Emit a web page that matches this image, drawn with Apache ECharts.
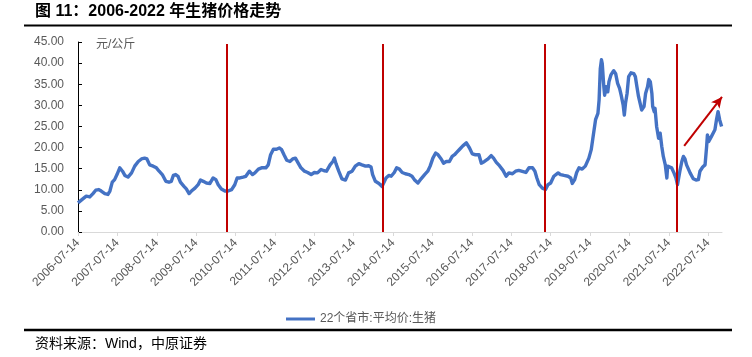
<!DOCTYPE html>
<html>
<head>
<meta charset="utf-8">
<script src="https://cdn.jsdelivr.net/npm/echarts@6/dist/echarts.min.js"></script>
<style>
html,body{margin:0;padding:0;background:#fff;}
#chart{width:752px;height:357px;}
</style>
</head>
<body>
<div id="chart"></div>
<script>
// Time in years since 2006-07-14
var timeYears = [
0.00,0.13,0.21,0.30,0.38,0.45,0.53,0.59,0.68,0.76,0.81,0.87,0.93,0.99,1.06,1.13,1.19,1.27,1.36,1.44,
1.53,1.61,1.69,1.75,1.82,1.91,1.99,2.06,2.14,2.23,2.31,2.37,2.42,2.48,2.54,2.60,2.69,2.75,2.82,2.88,
2.97,3.05,3.11,3.18,3.26,3.35,3.43,3.50,3.56,3.64,3.73,3.81,3.90,3.98,4.04,4.11,4.19,4.26,4.35,4.43,
4.49,4.58,4.66,4.77,4.83,4.89,4.96,5.04,5.11,5.17,5.23,5.30,5.38,
5.45,5.52,5.58,5.66,5.75,5.83,5.92,6.00,6.08,6.17,6.25,6.31,6.40,6.47,6.51,6.55,6.62,6.70,6.79,6.87,
6.96,7.04,7.13,7.21,7.30,7.38,7.44,7.48,7.55,7.64,7.72,7.76,7.82,7.89,7.95,8.03,8.09,8.16,8.23,8.31,
8.40,8.48,8.54,8.63,8.71,8.80,8.88,8.94,9.01,9.08,9.14,9.22,9.28,9.35,9.43,9.50,9.56,9.62,9.69,9.77,
9.86,9.90,9.94,10.01,10.09,10.18,10.24,10.32,10.41,10.49,10.55,10.62,10.70,10.79,10.87,10.94,11.03,11.11,11.19,
11.24,11.37,11.45,11.54,11.60,11.65,11.71,11.79,11.87,11.93,12.00,12.08,12.19,12.25,12.34,12.44,12.51,12.55,12.61,12.66,
12.72,12.80,12.88,12.97,13.03,13.09,13.14,13.20,13.23,13.26,13.29,13.31,13.35,13.37,13.41,13.45,13.48,13.53,13.60,13.65,
13.70,13.75,13.79,13.84,13.87,13.90,13.94,13.98,14.04,14.11,14.15,14.19,14.23,14.27,14.31,14.37,14.41,14.46,14.49,14.53,
14.57,14.59,14.63,14.65,14.69,14.74,14.78,14.82,14.86,14.91,14.95,14.97,15.01,15.07,15.13,15.18,15.22,15.25,15.28,15.33,
15.37,15.41,15.45,15.49,15.54,15.58,15.62,15.69,15.75,15.79,15.86,15.92,15.96,15.98,16.01,16.04,16.08,16.13,16.17,16.21,
16.25,16.29,16.34
];
// 元/公斤
var hogPrice = [
6.9,7.9,8.5,8.3,9.1,9.9,10.05,9.7,9.1,8.9,9.7,11.8,12.4,13.6,15.2,14.4,13.4,13.0,14.0,15.6,
16.7,17.3,17.5,17.3,15.9,15.6,15.2,14.4,13.6,12.0,11.8,12.0,13.4,13.6,13.2,11.8,10.8,10.2,9.1,9.7,
10.4,11.2,12.3,12.0,11.6,11.5,12.8,12.4,11.2,10.2,9.7,9.7,10.05,11.2,12.8,12.8,13.0,13.2,14.4,13.6,
14.0,14.9,15.2,15.2,15.9,18.3,19.6,19.6,19.9,19.5,18.3,17.0,16.7,
17.3,17.5,16.5,15.2,14.4,14.1,13.6,14.1,14.0,14.8,14.5,14.4,15.9,16.7,17.5,16.2,14.4,12.6,12.3,14.0,
14.4,15.6,16.2,15.9,15.6,15.7,15.4,13.6,12.0,11.5,10.8,10.4,12.8,13.4,13.2,14.1,15.2,14.9,14.1,13.8,
13.6,13.2,12.4,11.6,12.6,13.6,14.4,15.6,17.5,18.7,18.3,17.3,16.3,16.7,16.7,17.9,18.3,18.9,19.6,20.4,
21.1,20.9,19.9,18.5,18.3,18.3,16.3,16.7,17.3,18.1,17.5,16.5,15.7,14.6,13.2,14.0,13.8,14.4,14.6,
14.4,14.1,15.2,15.2,14.4,12.8,11.2,10.4,10.05,11.2,11.6,13.2,14.0,13.6,13.4,13.2,12.8,11.5,12.4,14.1,
15.2,14.9,15.6,17.5,19.5,23.4,26.6,28.1,31.3,38.7,40.8,39.9,34.4,32.4,34.4,33.2,35.6,37.2,38.2,37.5,
35.2,34.0,32.4,30.1,27.7,30.5,32.8,36.8,37.7,37.5,36.8,34.4,32.1,30.5,28.9,29.7,32.8,34.4,36.1,35.6,
32.8,29.7,28.5,29.3,25.0,22.2,23.4,20.3,17.9,15.9,12.8,15.6,15.9,15.2,14.0,12.8,11.2,10.8,14.4,16.7,
17.9,17.3,15.9,15.6,14.0,13.6,12.6,12.3,12.4,14.4,15.4,15.9,20.3,23.0,21.4,21.1,22.6,23.0,24.2,26.6,
28.5,26.6,25.0
];
var xTickYears = [0,1,2,3,4,5,6,7,8,9,10,11,12,13,14,15,16];
var startYear = 2006;
var tickDateSuffix = '-07-14';
// red cycle markers (years since start) and their top value
var cycleLineYears = [3.78, 7.73, 11.84, 15.19];
var cycleLineTop = 44.5;
// arrow: [startYear, startValue], [endYear, endValue]
var arrowStart = [15.39, 20.4];
var arrowEnd = [16.35, 32.0];

var seriesName = '22个省市:平均价:生猪';
var titleText = '图 11：2006-2022 年生猪价格走势';
var unitText = '元/公斤';
var sourceText = '资料来源：Wind，中原证券';

var FONT = "'Liberation Sans','Noto Sans CJK SC',sans-serif";
var chart = echarts.init(document.getElementById('chart'), null, {renderer: 'canvas'});

var lineData = timeYears.map(function (t, i) { return [t, hogPrice[i]]; });
var markData = cycleLineYears.map(function (t) {
  return [
    {coord: [t, 0], symbol: 'none'},
    {coord: [t, cycleLineTop], symbol: 'none'}
  ];
});
markData.push([
  {coord: arrowStart, symbol: 'none'},
  {coord: arrowEnd, symbol: 'arrow', symbolSize: [8, 11]}
]);

chart.setOption({
  animation: false,
  textStyle: {fontFamily: FONT},
  grid: {left: 78, right: 30, top: 42, bottom: 125, containLabel: false},
  legend: {
    data: [seriesName],
    left: 281, top: 308,
    icon: 'rect', itemWidth: 29, itemHeight: 3,
    textStyle: {fontSize: 12, color: '#595959', fontFamily: FONT},
    selectedMode: false
  },
  xAxis: {
    type: 'value',
    min: 0, max: 16.35,
    splitLine: {show: false},
    axisLine: {show: true, onZero: false, lineStyle: {color: '#d9d9d9', width: 1}},
    axisTick: {show: true, length: 4, lineStyle: {color: '#d9d9d9'}, customValues: xTickYears},
    axisLabel: {
      customValues: xTickYears,
      rotate: 45, fontSize: 12, color: '#595959', margin: 9, fontFamily: FONT,
      formatter: function (v) { return (startYear + Math.round(v)) + tickDateSuffix; }
    }
  },
  yAxis: {
    type: 'value',
    min: 0, max: 45, interval: 5,
    splitLine: {show: false},
    axisLine: {show: true, lineStyle: {color: '#000', width: 1}},
    axisTick: {show: true, inside: true, length: 4, lineStyle: {color: '#000'}},
    axisLabel: {fontSize: 12, color: '#595959', margin: 14, fontFamily: FONT,
      formatter: function (v) { return v.toFixed(2); }}
  },
  series: [{
    name: seriesName,
    type: 'line',
    data: lineData,
    showSymbol: false,
    symbol: 'none',
    smooth: false,
    lineStyle: {color: '#4472C4', width: 3.4, join: 'round'},
    itemStyle: {color: '#4472C4'},
    z: 2,
    markLine: {
      silent: true,
      animation: false,
      label: {show: false},
      lineStyle: {color: '#C00000', width: 2, type: 'solid'},
      emphasis: {disabled: true},
      data: markData
    }
  }],
  graphic: [
    {type: 'text', left: 35, top: 4,
      style: {text: titleText, font: "bold 16px " + FONT, fill: '#000'}},
    {type: 'line', shape: {x1: 24, y1: 25.5, x2: 732, y2: 25.5},
      style: {stroke: '#000', lineWidth: 2}},
    {type: 'text', left: 96, top: 39,
      style: {text: unitText, font: "12px " + FONT, fill: '#595959'}},
    {type: 'line', shape: {x1: 24, y1: 330, x2: 732, y2: 330},
      style: {stroke: '#000', lineWidth: 2.5}},
    {type: 'text', left: 35, top: 337,
      style: {text: sourceText, font: "14px " + FONT, fill: '#000'}}
  ]
});
</script>
</body>
</html>
